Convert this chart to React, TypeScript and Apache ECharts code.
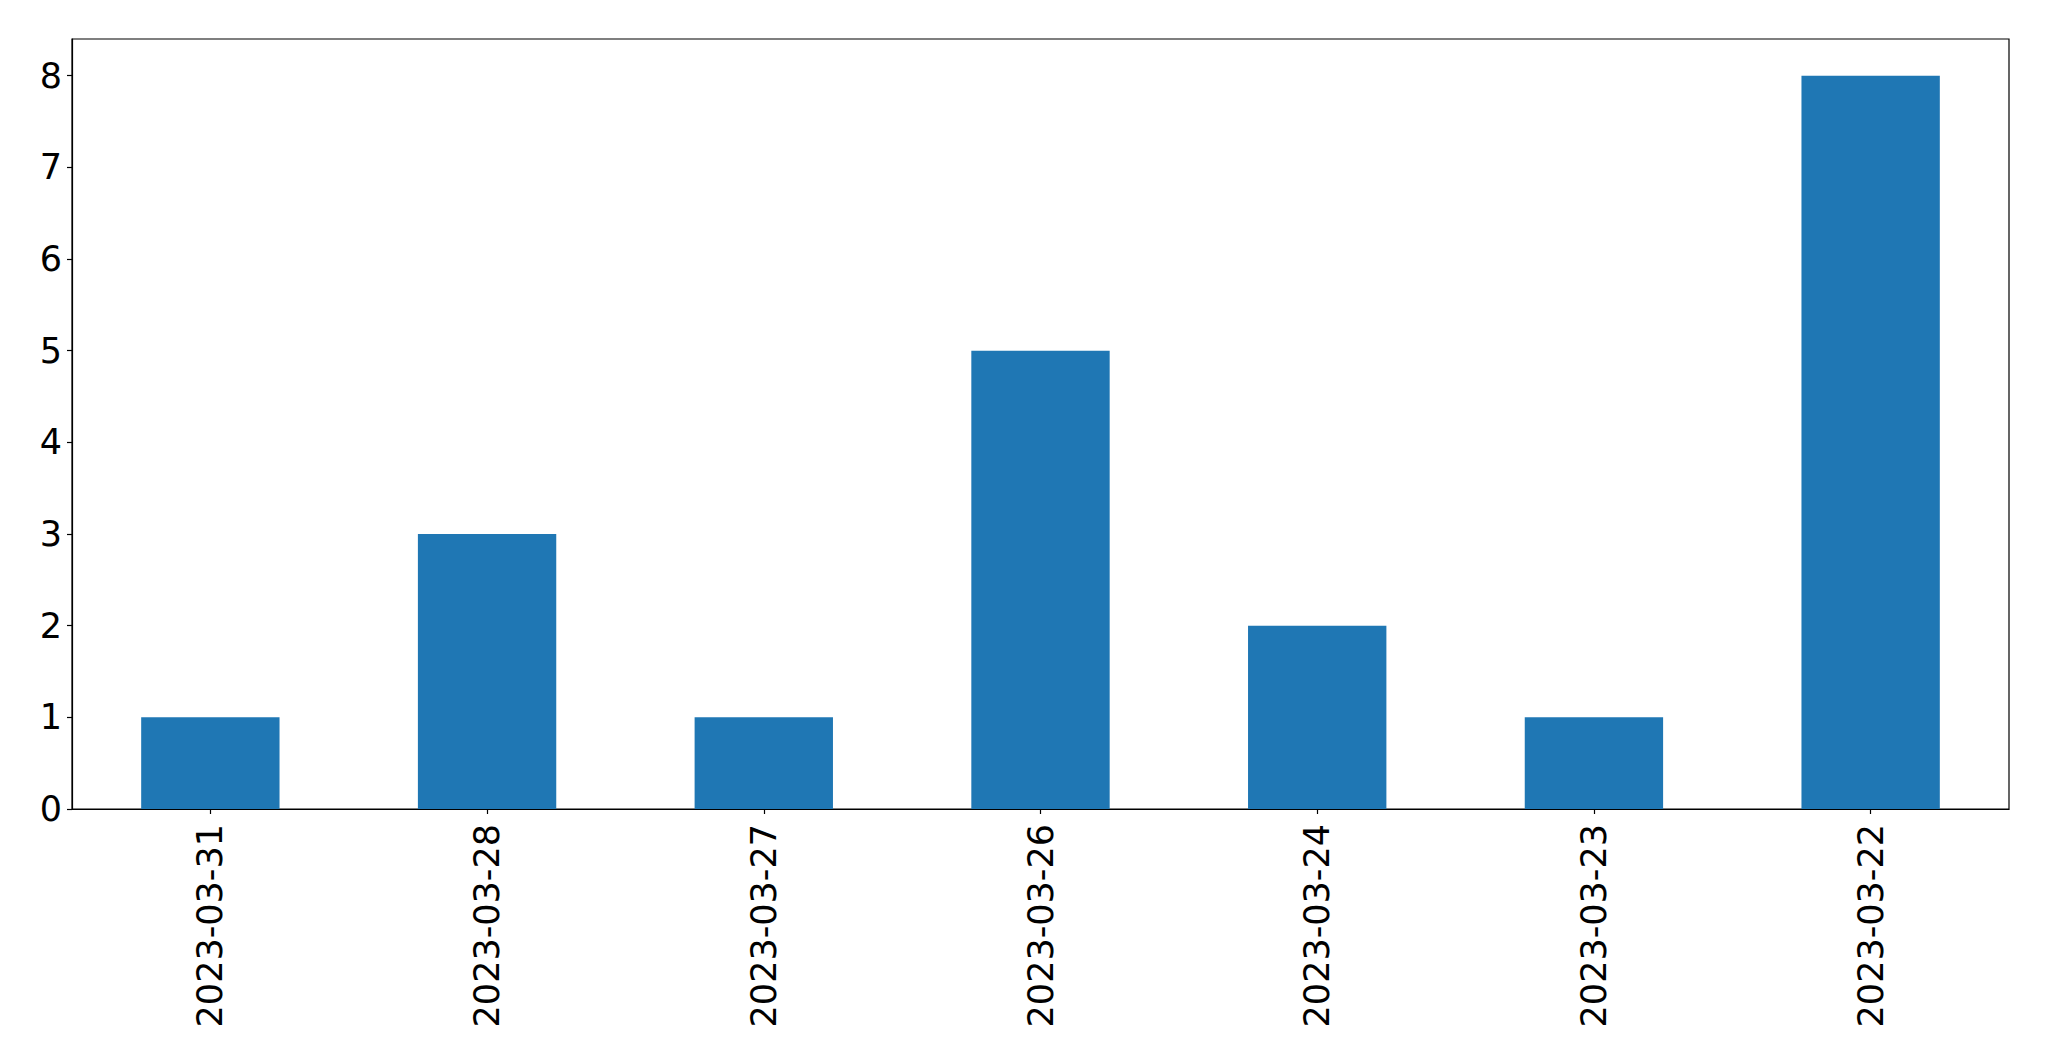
import React, { useEffect, useRef } from "react";
import * as echarts from "echarts";

const categories = ["2023-03-31", "2023-03-28", "2023-03-27", "2023-03-26", "2023-03-24", "2023-03-23", "2023-03-22"];
const values = [1, 3, 1, 5, 2, 1, 8];
const yTicks = [0, 1, 2, 3, 4, 5, 6, 7, 8];

export default function App() {
  const ref = useRef<HTMLDivElement>(null);
  useEffect(() => {
    const chart = echarts.init(ref.current!, null, { renderer: "svg" });
    const font = "DejaVu Sans";
    chart.setOption({
      animation: false,
      backgroundColor: "#ffffff",
      grid: {
        left: 72,
        top: 39,
        right: 40,
        bottom: 252,
        show: true,
        borderColor: "#000000",
        borderWidth: 1.2,
        containLabel: false,
      },
      xAxis: {
        type: "category",
        data: categories,
        boundaryGap: true,
        axisLine: { show: true, lineStyle: { color: "#000000", width: 1.2 } },
        axisTick: { show: true, alignWithLabel: true, length: 5, lineStyle: { color: "#000000", width: 1.2 } },
        axisLabel: {
          rotate: 90,
          color: "#000000",
          fontFamily: font,
          fontSize: 35,
          margin: 15,
          interval: 0,
        },
        splitLine: { show: false },
      },
      yAxis: {
        type: "value",
        min: 0,
        max: 8.4,
        interval: 1,
        axisLine: { show: true, lineStyle: { color: "#000000", width: 1.2 } },
        axisTick: { show: true, length: 5, customValues: yTicks, lineStyle: { color: "#000000", width: 1.2 } },
        axisLabel: {
          color: "#000000",
          fontFamily: font,
          fontSize: 35,
          margin: 10,
          customValues: yTicks,
        },
        splitLine: { show: false },
      },
      series: [
        {
          type: "bar",
          data: values,
          barWidth: "50%",
          itemStyle: { color: "#1f77b4" },
        },
      ],
    });
    return () => chart.dispose();
  }, []);
  return <div ref={ref} style={{ width: 2049, height: 1061, position: "absolute", left: 0, top: 0 }} />;
}
